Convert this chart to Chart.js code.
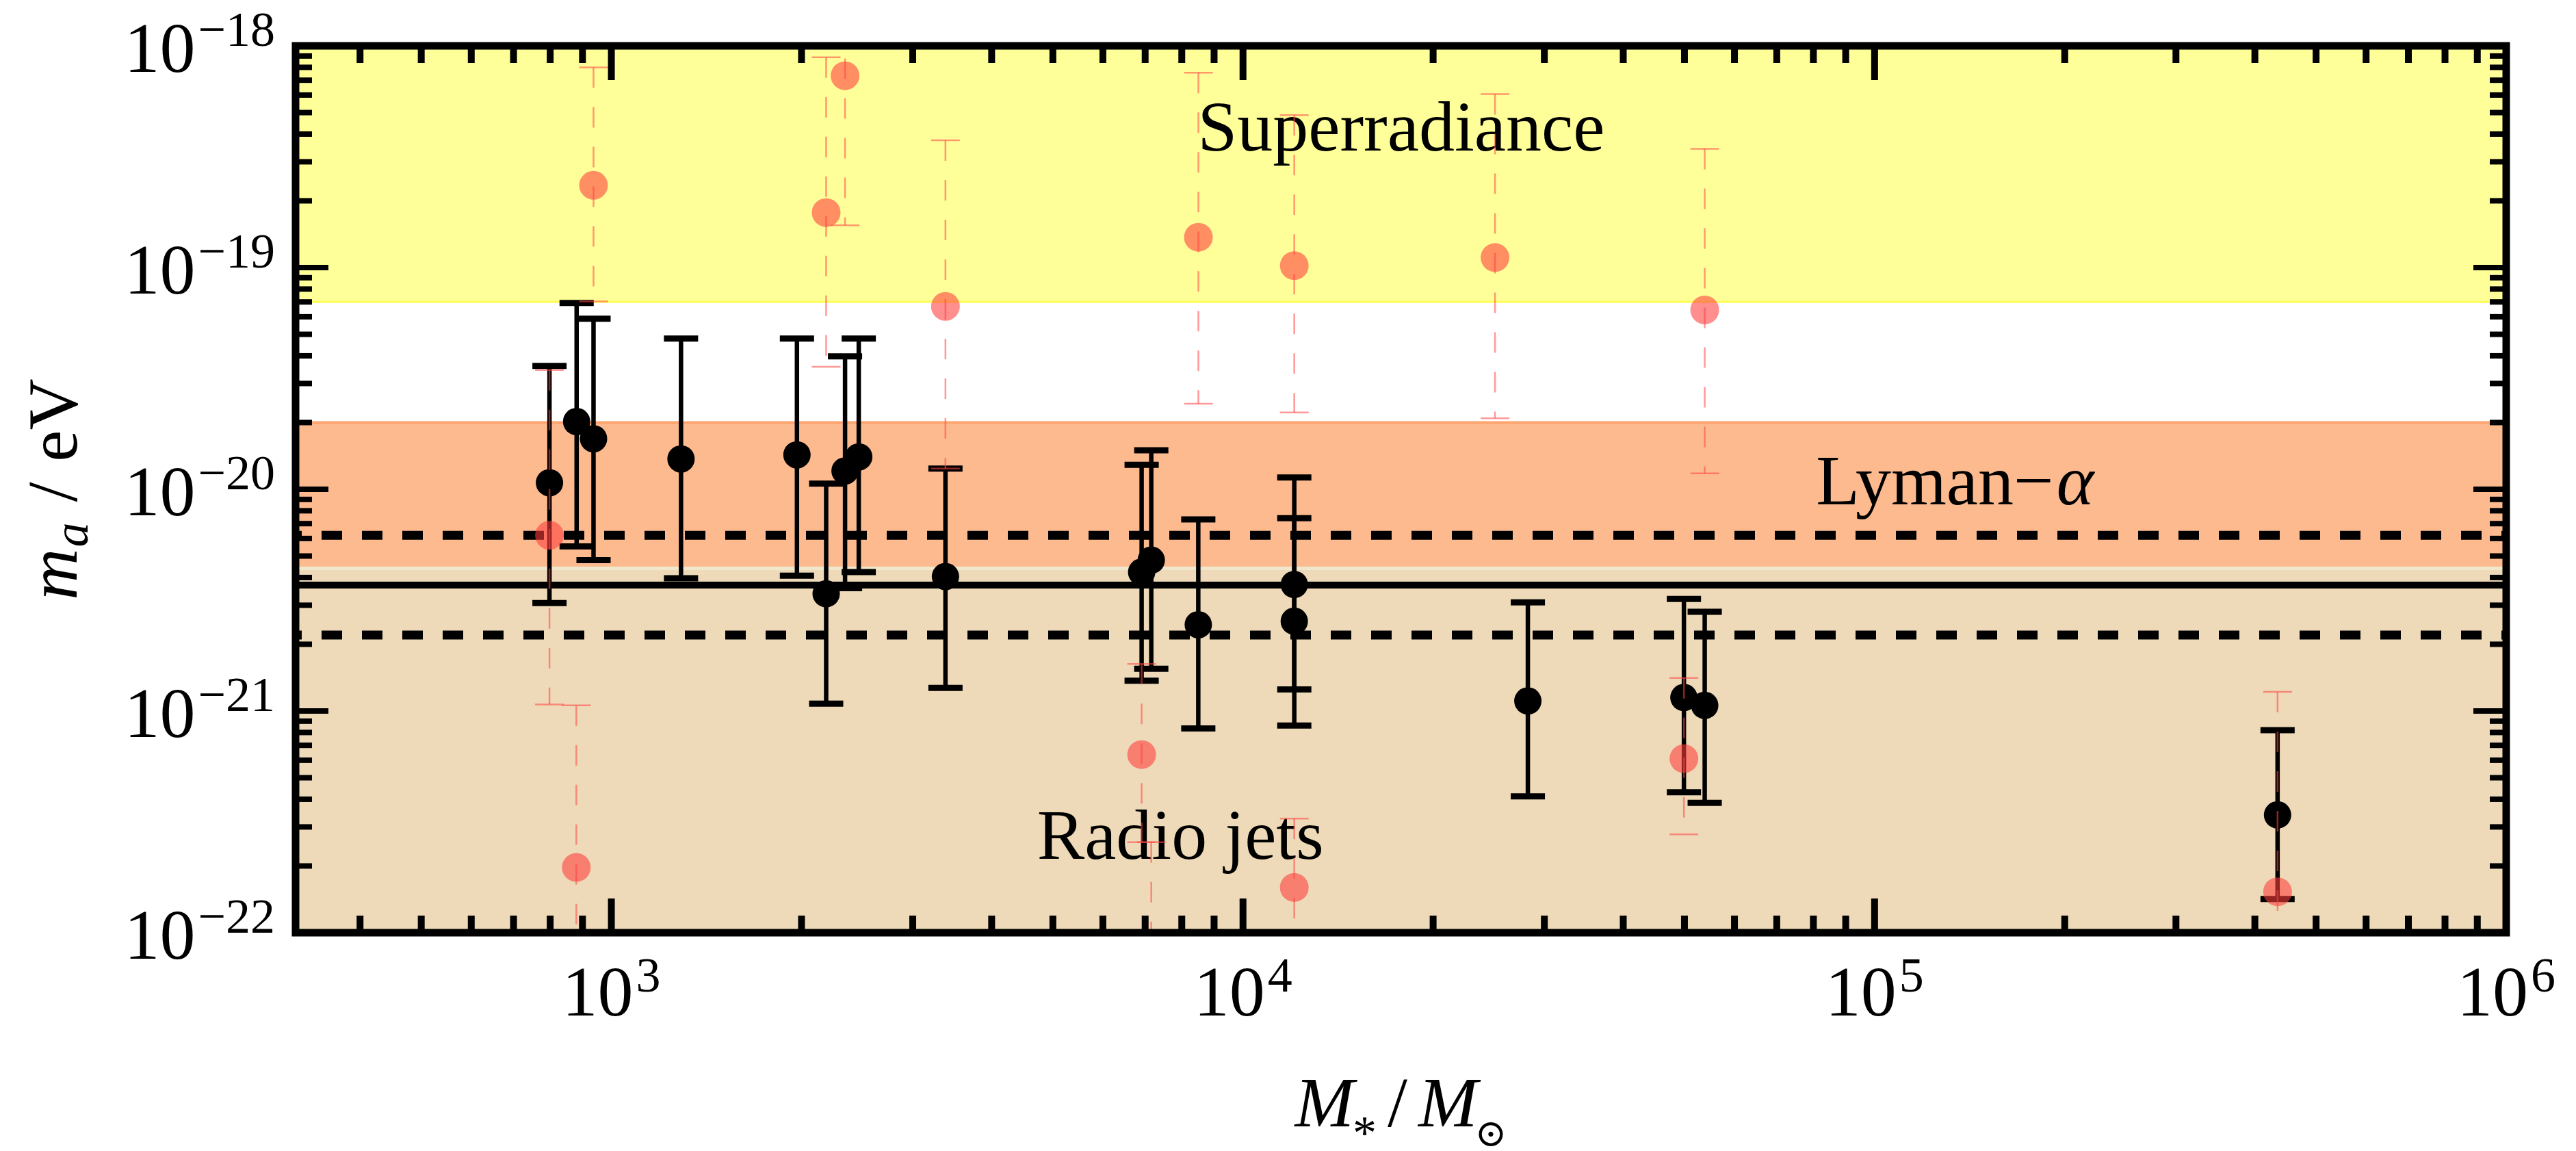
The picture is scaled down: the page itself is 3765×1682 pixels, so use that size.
<!DOCTYPE html>
<html>
<head>
<meta charset="utf-8">
<script src="https://cdn.jsdelivr.net/npm/chart.js@4.4.0/dist/chart.umd.min.js"></script>
<style>
  html, body { margin: 0; padding: 0; background: #fff; }
  canvas { display: block; }
</style>
</head>
<body>
<canvas id="myChart" width="3765" height="1682"></canvas>
<script>
// galaxies (black): stellar mass M*/Msun and the axion mass m_a / eV with its range
const blackMass = [798, 881, 937, 1289, 1967, 2188, 2344, 2464, 3380, 6911, 7158, 8496, 12056, 12056, 28250, 49900, 53830, 434500];
const blackMa   = [1.07e-20, 2.02e-20, 1.69e-20, 1.37e-20, 1.43e-20, 3.38e-21, 1.21e-20, 1.40e-20, 4.04e-21, 4.23e-21, 4.79e-21, 2.45e-21, 3.72e-21, 2.54e-21, 1.11e-21, 1.15e-21, 1.06e-21, 3.4e-22];
const blackLo   = [3.07e-21, 5.52e-21, 4.79e-21, 3.97e-21, 4.08e-21, 1.08e-21, 3.58e-21, 4.23e-21, 1.27e-21, 1.37e-21, 1.55e-21, 8.34e-22, 1.25e-21, 8.6e-22, 4.12e-22, 4.3e-22, 3.85e-22, 1.42e-22];
const blackHi   = [3.6e-20, 6.92e-20, 5.88e-20, 4.78e-20, 4.78e-20, 1.06e-20, 3.98e-20, 4.78e-20, 1.24e-20, 1.29e-20, 1.50e-20, 7.31e-21, 1.13e-20, 7.41e-21, 3.09e-21, 3.2e-21, 2.8e-21, 8.2e-22];

// second estimate (red, faded)
const redMass = [798, 880, 937, 2188, 2344, 3380, 6911, 7158, 8500, 12056, 12056, 25060, 49900, 53830, 434500];
const redMa   = [6.2e-21, 1.97e-22, 2.35e-19, 1.77e-19, 7.33e-19, 6.68e-20, 6.36e-22, 5e-23, 1.37e-19, 1.02e-19, 1.6e-22, 1.11e-19, 6.1e-22, 6.44e-20, 1.53e-22];
const redLo   = [1.07e-21, 8e-23, 7.03e-20, 3.57e-20, 1.55e-19, 1.24e-20, 2.56e-22, 3e-23, 2.43e-20, 2.22e-20, 8e-23, 2.09e-20, 2.78e-22, 1.18e-20, 9e-23];
const redHi   = [3.45e-20, 1.06e-21, 8.0e-19, 8.87e-19, 2e-18, 3.75e-19, 1.63e-21, 2.56e-22, 7.57e-19, 4.87e-19, 3.27e-22, 6.06e-19, 1.41e-21, 3.43e-19, 1.22e-21];

// excluded regions
const bandNames = ['Superradiance', 'Lyman\u2212\u03b1', 'Radio jets'];
const bandLow   = [7e-20, 4.4e-21, 1e-22];
const bandHigh  = [1e-18, 2e-20, 4.4e-21];

// horizontal lines: dashed, solid, dashed
const lineLevels = [6.2e-21, 3.7e-21, 2.2e-21];

const xMajorTicks = [1e3, 1e4, 1e5, 1e6];
const xTickExp    = ['3', '4', '5', '6'];
const yMajorTicks = [1e-22, 1e-21, 1e-20, 1e-19, 1e-18];
const yTickExp    = ['\u221222', '\u221221', '\u221220', '\u221219', '\u221218'];

const xMin = Math.pow(10, 2.5), xMax = 1e6;
const yMin = 1e-22, yMax = 1e-18;

const serif = '"Liberation Serif", "DejaVu Serif", serif';
function font(size, italic) {
    return (italic ? 'italic ' : '') + size + 'px ' + serif;
}

// pieces are [text, size, italic, dy, gapAfter]
function runWidth(ctx, parts) {
    let w = 0;
    parts.forEach(p => { ctx.font = font(p[1], p[2]); w += ctx.measureText(p[0]).width + (p[4] || 0); });
    return w;
}
function drawRun(ctx, parts, x, y) {
    parts.forEach(p => {
        ctx.font = font(p[1], p[2]);
        ctx.fillText(p[0], x, y + (p[3] || 0));
        x += ctx.measureText(p[0]).width + (p[4] || 0);
    });
}

function minorTicks(lo, hi) {
    const out = [];
    for (let e = Math.floor(Math.log10(lo)); e <= Math.ceil(Math.log10(hi)); e++) {
        for (let k = 2; k < 10; k++) {
            const v = k * Math.pow(10, e);
            if (v > lo && v < hi) out.push(v);
        }
    }
    return out;
}

function clipArea(ctx, a) {
    ctx.beginPath();
    ctx.rect(a.left, a.top, a.right - a.left, a.bottom - a.top);
    ctx.clip();
}

// coloured bands + their labels, under everything else
const bands = {
    id: 'bands',
    beforeDatasetsDraw(chart) {
        const {ctx, chartArea: a, scales: {x, y}} = chart;
        const fills = ['#ffff99', '#fdba8f', '#eedab8'];
        ctx.save();
        clipArea(ctx, a);
        [2, 1, 0].forEach(i => {
            const t = y.getPixelForValue(bandHigh[i]), b = y.getPixelForValue(bandLow[i]);
            ctx.fillStyle = fills[i];
            ctx.fillRect(a.left, t, a.right - a.left, b - t);
        });
        const edge = (v, col, w) => {
            const p = y.getPixelForValue(v);
            ctx.fillStyle = col;
            ctx.fillRect(a.left, p - w / 2, a.right - a.left, w);
        };
        edge(bandLow[0], '#ffff55', 3);
        edge(bandHigh[1], '#fda46f', 4);
        edge(bandLow[1], '#efe8cc', 5);

        // region names, anchored in data coordinates
        const spots = [[17800, 3.37e-19], [134000, 8.55e-21], [7960, 2.15e-22]];
        ctx.fillStyle = '#000';
        ctx.textAlign = 'left';
        ctx.textBaseline = 'alphabetic';
        const texts = [
            [[bandNames[0], 104, false]],
            [['Lyman', 104, false, 0, 0], ['\u2212', 104, false, 0, 4], ['\u03b1', 104, true]],
            [[bandNames[2], 104, false]]
        ];
        texts.forEach((parts, i) => {
            const w = runWidth(ctx, parts);
            drawRun(ctx, parts, x.getPixelForValue(spots[i][0]) - w / 2, y.getPixelForValue(spots[i][1]));
        });
        ctx.restore();
    }
};

// vertical error bars drawn just before each point dataset
const errorBars = {
    id: 'errorBars',
    beforeDatasetDraw(chart, args) {
        const ds = chart.data.datasets[args.index];
        if (!ds.errLo) return;
        const {ctx, chartArea: a, scales: {x, y}} = chart;
        const red = ds.barStyle === 'red';
        ctx.save();
        clipArea(ctx, a);
        ctx.strokeStyle = red ? 'rgba(255,70,70,0.55)' : '#000';
        ds.data.forEach((d, i) => {
            const px = x.getPixelForValue(d.x);
            const t = y.getPixelForValue(ds.errHi[i]);
            const b = y.getPixelForValue(ds.errLo[i]);
            ctx.lineWidth = red ? 2.5 : 6.5;
            ctx.setLineDash(red ? [30, 28] : []);
            ctx.beginPath();
            ctx.moveTo(px, t);
            ctx.lineTo(px, b);
            ctx.stroke();
            ctx.setLineDash([]);
            ctx.lineWidth = red ? 2.5 : 9;
            const cw = red ? 21 : 25;
            ctx.beginPath();
            ctx.moveTo(px - cw, t); ctx.lineTo(px + cw, t);
            ctx.moveTo(px - cw, b); ctx.lineTo(px + cw, b);
            ctx.stroke();
        });
        ctx.restore();
    }
};

// frame, inward ticks on all four sides, tick labels and axis titles
const frame = {
    id: 'frame',
    afterDraw(chart) {
        const {ctx, chartArea: a, scales: {x, y}} = chart;
        ctx.save();
        ctx.fillStyle = '#000';
        const xMinor = minorTicks(xMin, xMax), yMinor = minorTicks(yMin, yMax);
        const xt = (v, len) => {
            const p = x.getPixelForValue(v);
            ctx.fillRect(p - 5, a.bottom - len, 10, len);
            ctx.fillRect(p - 5, a.top, 10, len);
        };
        const yt = (v, len) => {
            const p = y.getPixelForValue(v);
            ctx.fillRect(a.left, p - 4, len, 8);
            ctx.fillRect(a.right - len, p - 4, len, 8);
        };
        xMinor.forEach(v => xt(v, 25));
        xMajorTicks.forEach(v => xt(v, 50));
        yMinor.forEach(v => yt(v, 24));
        yMajorTicks.forEach(v => yt(v, 48));

        ctx.strokeStyle = '#000';
        ctx.lineWidth = 11;
        ctx.lineJoin = 'miter';
        ctx.strokeRect(a.left, a.top, a.right - a.left, a.bottom - a.top);

        ctx.textAlign = 'left';
        ctx.textBaseline = 'alphabetic';
        yMajorTicks.forEach((v, i) => {
            const parts = [['10', 104, false, 0, 4], [yTickExp[i], 72, false, -38]];
            const w = runWidth(ctx, parts);
            drawRun(ctx, parts, a.left - 30 - w, y.getPixelForValue(v) + 38);
        });
        xMajorTicks.forEach((v, i) => {
            const parts = [['10', 104, false, 0, 4], [xTickExp[i], 72, false, -35]];
            const w = runWidth(ctx, parts);
            drawRun(ctx, parts, x.getPixelForValue(v) - w / 2, a.bottom + 121);
        });

        // x title  M* / M(sun)
        const xt2 = [['M', 104, true, 0, -2], ['*', 70, false, 33, 16], ['/', 104, false, 0, 16],
                     ['M', 104, true, 0, -4], ['\u2299', 56, false, 29, 0]];
        const wx = runWidth(ctx, xt2);
        drawRun(ctx, xt2, (a.left + a.right) / 2 - wx / 2, a.bottom + 283);

        // y title  m_a / eV, rotated
        const yt2 = [['m', 104, true, 0, 2], ['a', 72, true, 16, 30], ['/', 104, false, 0, 30], ['eV', 104, false]];
        const wy = runWidth(ctx, yt2);
        ctx.translate(112, (a.top + a.bottom) / 2);
        ctx.rotate(-Math.PI / 2);
        drawRun(ctx, yt2, -wy / 2, 0);
        ctx.restore();
    }
};

const pts = (xs, ys) => xs.map((m, i) => ({x: m, y: ys[i]}));

const datasets = [
    {
        label: 'red', data: pts(redMass, redMa), errLo: redLo, errHi: redHi, barStyle: 'red',
        backgroundColor: 'rgba(255,60,60,0.58)', borderWidth: 0, pointBorderWidth: 0,
        pointRadius: 21, clip: 0, order: 0
    },
    {
        label: 'black', data: pts(blackMass, blackMa), errLo: blackLo, errHi: blackHi, barStyle: 'black',
        backgroundColor: '#000', borderWidth: 0, pointBorderWidth: 0,
        pointRadius: 20, clip: 0, order: 1
    }
];
lineLevels.forEach((v, i) => {
    datasets.push({
        type: 'line', label: 'level' + i,
        data: [{x: xMin, y: v}, {x: xMax, y: v}],
        borderColor: '#000', borderWidth: i === 1 ? 10 : 13,
        borderDash: i === 1 ? [] : [30, 29], borderDashOffset: 21,
        borderCapStyle: 'butt', pointRadius: 0, fill: false, clip: 0, order: 2
    });
});

new Chart(document.getElementById('myChart'), {
    type: 'scatter',
    data: {datasets: datasets},
    options: {
        responsive: false,
        devicePixelRatio: 1,
        animation: false,
        events: [],
        layout: {padding: {left: 432, right: 102, top: 67, bottom: 319}},
        plugins: {legend: {display: false}, tooltip: {enabled: false}},
        scales: {
            x: {type: 'logarithmic', min: xMin, max: xMax, display: false},
            y: {type: 'logarithmic', min: yMin, max: yMax, display: false}
        }
    },
    plugins: [bands, errorBars, frame]
});
</script>
</body>
</html>
